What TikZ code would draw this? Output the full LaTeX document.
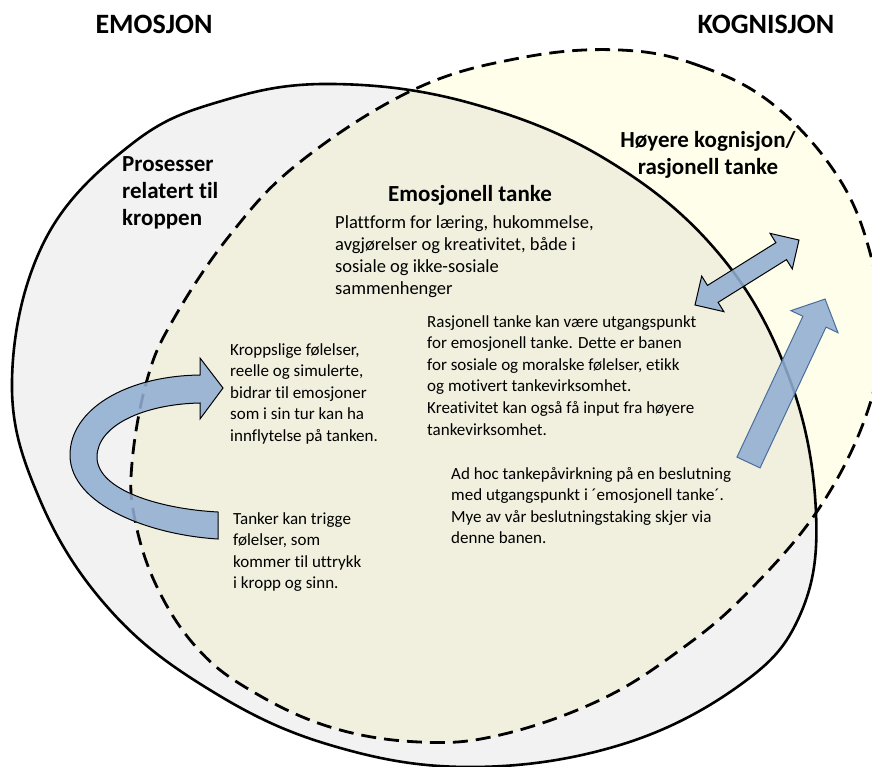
\documentclass[tikz,border=0pt]{standalone}
\usepackage{fontspec}
\setmainfont{Carlito}[Ligatures={NoCommon}]
\definecolor{grayfill}{HTML}{F2F2F2}
\definecolor{yelfill}{HTML}{FEFEEA}
\definecolor{beigefill}{HTML}{F1F0DF}
\definecolor{arrowblue}{HTML}{91AED3}
\definecolor{arrowedge}{HTML}{4A6D9C}
\newcommand{\blk}[1]{\begin{tabular}[t]{@{}l@{}}#1\end{tabular}}
\newcommand{\cblk}[1]{\begin{tabular}[t]{@{}c@{}}#1\end{tabular}}
\begin{document}
\begin{tikzpicture}[x=1pt,y=-1pt,
  outline/.style={line width=2.6pt,draw=black},
  dashline/.style={line width=2.8pt,draw=black,dash pattern=on 15pt off 8pt},
  blockarrow/.style={fill=arrowblue,fill opacity=0.88,draw=black,line width=1pt,line join=miter},
  title/.style={font=\fontsize{28}{32}\selectfont\bfseries,inner sep=0pt,anchor=base},
  head/.style={font=\fontsize{23}{27}\selectfont\bfseries,inner sep=0pt},
  body/.style={font=\fontsize{17}{21.6}\selectfont,inner sep=0pt,anchor=base west},
  bodyb/.style={font=\fontsize{18.5}{21.7}\selectfont,inner sep=0pt,anchor=base west}]
\useasboundingbox (0,0) rectangle (872,767);
\clip (0,0) rectangle (872,767);
% fills
\fill[grayfill] plot[smooth cycle,tension=0.65] coordinates {(333,84) (470,103) (607,160) (720,255) (790,380) (816,513) (800,615) (740,685) (620,745) (470,767) (330,745) (210,690) (110,610) (40,500) (12,380) (45,240) (133,143) (225,100)};
\fill[yelfill] plot[smooth cycle,tension=0.65] coordinates {(620,50) (700,66) (775,106) (840,180) (872,260) (880,330) (868,410) (820,507) (747,593) (680,650) (600,700) (500,735) (419,742) (330,727) (250,690) (197,648) (157,587) (135,520) (132,463) (147,380) (173,320) (230,235) (300,162) (413,90) (520,58)};
\begin{scope}
\clip plot[smooth cycle,tension=0.65] coordinates {(333,84) (470,103) (607,160) (720,255) (790,380) (816,513) (800,615) (740,685) (620,745) (470,767) (330,745) (210,690) (110,610) (40,500) (12,380) (45,240) (133,143) (225,100)};
\fill[beigefill] plot[smooth cycle,tension=0.65] coordinates {(620,50) (700,66) (775,106) (840,180) (872,260) (880,330) (868,410) (820,507) (747,593) (680,650) (600,700) (500,735) (419,742) (330,727) (250,690) (197,648) (157,587) (135,520) (132,463) (147,380) (173,320) (230,235) (300,162) (413,90) (520,58)};
\end{scope}
% outlines
\draw[outline] plot[smooth cycle,tension=0.65] coordinates {(333,84) (470,103) (607,160) (720,255) (790,380) (816,513) (800,615) (740,685) (620,745) (470,767) (330,745) (210,690) (110,610) (40,500) (12,380) (45,240) (133,143) (225,100)};
\draw[dashline] plot[smooth cycle,tension=0.65] coordinates {(620,50) (700,66) (775,106) (840,180) (872,260) (880,330) (868,410) (820,507) (747,593) (680,650) (600,700) (500,735) (419,742) (330,727) (250,690) (197,648) (157,587) (135,520) (132,463) (147,380) (173,320) (230,235) (300,162) (413,90) (520,58)};
% curved arrow
\filldraw[blockarrow] (218,539) .. controls (150,535) and (70,505) .. (70,455)
  .. controls (70,410) and (125,376) .. (200,375) -- (200,358) -- (223,388) -- (200,419) -- (200,403)
  .. controls (145,404) and (97,425) .. (97,457) .. controls (97,490) and (160,509) .. (218,512) -- cycle;
% double arrow
\begin{scope}[shift={(695,305)},rotate=32]
\filldraw[blockarrow] (0,0) -- (21,21) -- (21,10) -- (101.6,10) -- (101.6,21) -- (122.6,0)
  -- (101.6,-21) -- (101.6,-10) -- (21,-10) -- (21,-21) -- cycle;
\end{scope}
% straight arrow
\begin{scope}[shift={(748.5,462.5)},rotate=64.9]
\filldraw[blockarrow,draw=arrowedge] (0,-12.75) -- (155.5,-12.75) -- (155.5,-26) -- (180.5,0)
  -- (155.5,26) -- (155.5,12.75) -- (0,12.75) -- cycle;
\end{scope}
% texts
\node[title] (emo) at (154,34) {EMOSJON};
\node[title] (kog) at (766,34) {KOGNISJON};
\node[head,anchor=base west] (pros) at (122,172) {\blk{Prosesser\\relatert til\\kroppen}};
\node[head,anchor=base] (emt) at (470,202) {Emosjonell tanke};
\node[head,anchor=base] (hoy) at (708,148) {\cblk{Høyere kognisjon/\\rasjonell tanke}};
\node[bodyb] (platt) at (335,229) {\blk{Plattform for læring, hukommelse,\\avgjørelser og kreativitet, både i\\sosiale og ikke-sosiale\\sammenhenger}};
\node[body] (kropp) at (230,355) {\blk{Kroppslige følelser,\\reelle og simulerte,\\bidrar til emosjoner\\som i sin tur kan ha\\innflytelse på tanken.}};
\node[body] (tank) at (233,524) {\blk{Tanker kan trigge\\følelser, som\\kommer til uttrykk\\i kropp og sinn.}};
\node[body] (rasj) at (427,327) {\blk{Rasjonell tanke kan være utgangspunkt\\for emosjonell tanke. Dette er banen\\for sosiale og moralske følelser, etikk\\og motivert tankevirksomhet.\\Kreativitet kan også få input fra høyere\\tankevirksomhet.}};
\node[body] (adhoc) at (451,479) {\blk{Ad hoc tankepåvirkning på en beslutning\\med utgangspunkt i ´emosjonell tanke´.\\Mye av vår beslutningstaking skjer via\\denne banen.}};
\end{tikzpicture}
\end{document}
